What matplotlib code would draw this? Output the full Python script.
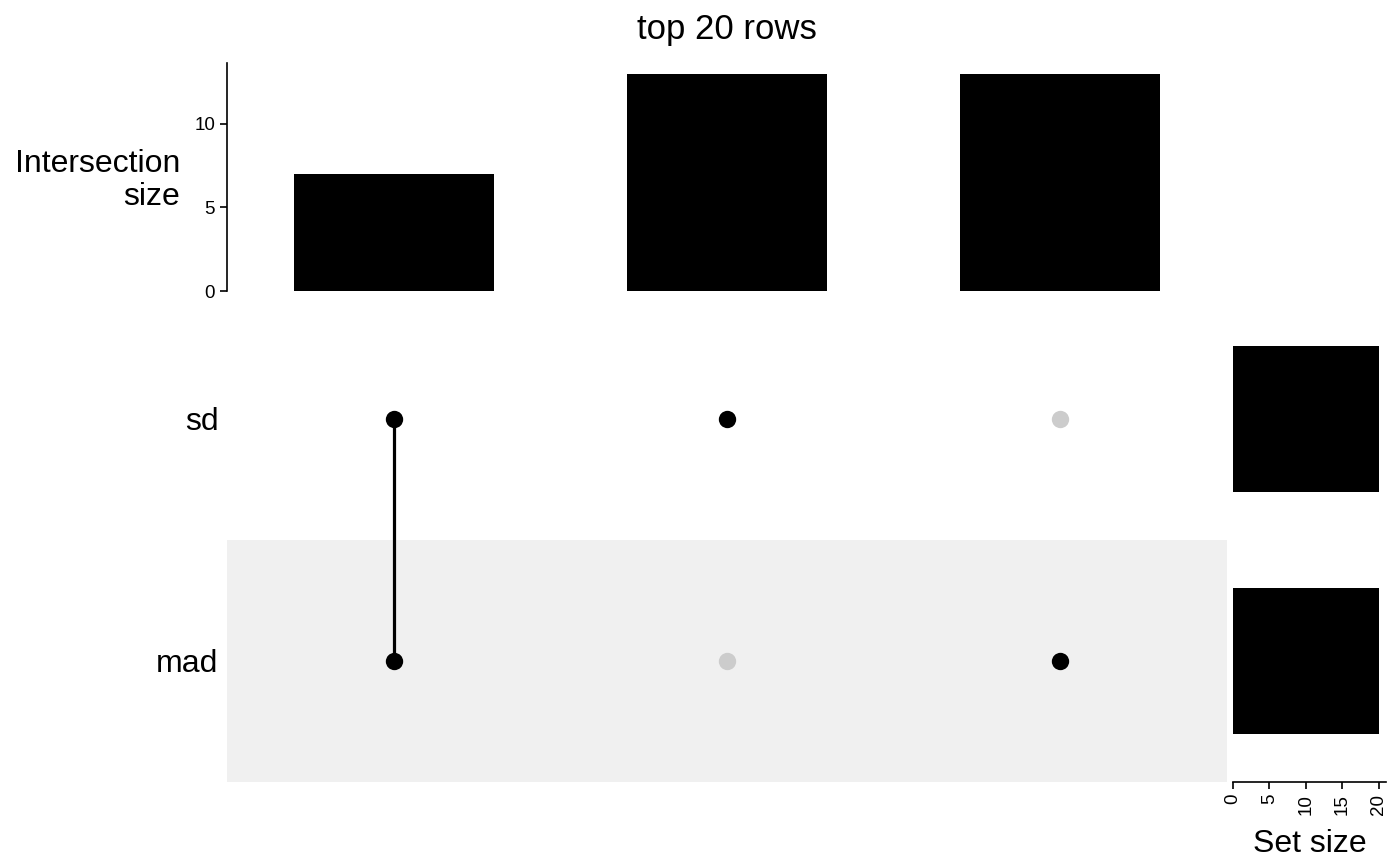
import matplotlib
matplotlib.use("Agg")
import matplotlib.pyplot as plt
from matplotlib.patches import Rectangle

plt.rcParams['font.family'] = ['Liberation Sans', 'DejaVu Sans']

sets = ["mad", "sd"]              # bottom to top
set_sizes = [20, 20]
intersections = [["sd", "mad"], ["sd"], ["mad"]]
inter_sizes = [7, 13, 13]
title = "top 20 rows"

fig = plt.figure(figsize=(14, 8.66), dpi=100)

W, H = 1400, 866
def ax_px(l, t, r, b):
    return fig.add_axes([l / W, 1 - b / H, (r - l) / W, (b - t) / H])

# Intersection size bars
ax_top = ax_px(227, 63, 1227, 291)
xs = list(range(1, len(inter_sizes) + 1))
ax_top.bar(xs, inter_sizes, width=0.6, color="black")
ax_top.set_xlim(0.5, len(xs) + 0.5)
ax_top.set_ylim(0, max(inter_sizes) * 1.05)
ax_top.set_yticks([0, 5, 10])
for s in ["top", "right", "bottom"]:
    ax_top.spines[s].set_visible(False)
ax_top.spines["left"].set_linewidth(1.2)
ax_top.set_xticks([])
ax_top.tick_params(axis="y", labelsize=13.5, length=5, width=1.2)
ax_top.set_ylabel("Intersection\nsize", fontsize=23, rotation=0, ha="right", va="center",
                  linespacing=1.1)
ax_top.yaxis.set_label_coords(-0.047, 0.485)
ax_top.set_title(title, fontsize=25, pad=17)

# Matrix
ax_m = ax_px(227, 298, 1227, 782)
ax_m.set_xlim(0.5, len(xs) + 0.5)
ax_m.set_ylim(-0.5, len(sets) - 0.5)
for i, s in enumerate(sets):
    if i % 2 == 0:
        ax_m.add_patch(Rectangle((0.5, i - 0.5), len(xs), 1, color="#F0F0F0", zorder=0,
                                 linewidth=0))
for x, members in zip(xs, intersections):
    ys_in = [sets.index(m) for m in members]
    for i in range(len(sets)):
        ax_m.plot(x, i, "o", color="black" if i in ys_in else "#CCCCCC",
                  markersize=12.5, zorder=3, markeredgewidth=0)
    if len(ys_in) > 1:
        ax_m.plot([x, x], [min(ys_in), max(ys_in)], color="black", linewidth=2.3, zorder=2)
for s in ax_m.spines.values():
    s.set_visible(False)
ax_m.set_xticks([])
ax_m.set_yticks(range(len(sets)))
ax_m.set_yticklabels(sets, fontsize=23)
ax_m.tick_params(axis="y", length=0, pad=6)

# Set size bars
ax_s = ax_px(1233, 298, 1386, 782)
ax_s.barh(range(len(sets)), set_sizes, height=0.6, color="black")
ax_s.set_ylim(-0.5, len(sets) - 0.5)
ax_s.set_xlim(0, max(set_sizes) * 1.05)
ax_s.set_xticks([0, 5, 10, 15, 20])
ax_s.set_yticks([])
for s in ["top", "right", "left"]:
    ax_s.spines[s].set_visible(False)
ax_s.spines["bottom"].set_linewidth(1.2)
ax_s.tick_params(axis="x", labelsize=13.5, length=5, width=1.2, labelrotation=90)
ax_s.set_xlabel("Set size", fontsize=23, labelpad=10)

fig.savefig("out.png", dpi=100)
